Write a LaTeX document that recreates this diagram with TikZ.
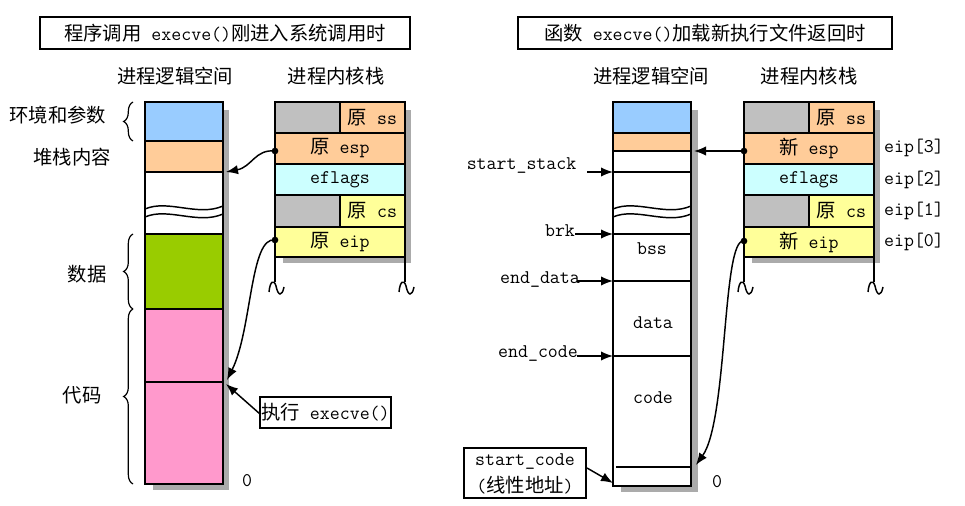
\documentclass[tikz,border=0pt]{standalone}
\usepackage{fontspec}
\newfontfamily\cjk{Noto Sans CJK SC}
\usetikzlibrary{arrows.meta,fit,decorations.pathreplacing}
\definecolor{cblue}{HTML}{99CCFF}
\definecolor{corange}{HTML}{FFCC99}
\definecolor{cgreen}{HTML}{99CC00}
\definecolor{cpink}{HTML}{FF99CC}
\definecolor{cgray}{HTML}{C0C0C0}
\definecolor{ccyan}{HTML}{CCFFFF}
\definecolor{cyellow}{HTML}{FFFF99}
\definecolor{cshadow}{HTML}{ABABAB}
\begin{document}
\begin{tikzpicture}[x=0.75pt,y=-0.75pt,
  every node/.style={font=\ttfamily\fontsize{14.5}{17}\selectfont},
  cell/.style={draw,line width=1.1pt,inner sep=0pt},
  tbox/.style={draw,line width=1.1pt,inner sep=0pt},
  cellline/.style={line width=1.1pt},
  wave/.style={line width=1.1pt},
  arr/.style={-{Latex[length=9pt,width=7pt]},line width=1.1pt},
  dot/.style={circle,fill=black,inner sep=0pt,minimum size=5pt},
  brc/.style={decorate,decoration={brace,amplitude=7pt},line width=0.9pt}]
\useasboundingbox (0,0) rectangle (965,506);

% ---------- shadows ----------
\fill[cshadow] (223,110) rectangle (229,490);
\fill[cshadow] (153,484) rectangle (229,490);
\fill[cshadow] (405,110) rectangle (411,263);
\fill[cshadow] (283,257) rectangle (411,263);
\fill[cshadow] (691,110) rectangle (698,492);
\fill[cshadow] (621,486) rectangle (698,492);
\fill[cshadow] (874,110) rectangle (880,263);
\fill[cshadow] (752,257) rectangle (880,263);

% ---------- left diagram ----------
\node[tbox,fit={(40,17)(410,49)},label=center:{{\cjk 程序调用} execve(){\cjk 刚进入系统调用时}}] (T1) {};
\node (LH1) at (175,76) {\cjk 进程逻辑空间};
\node (LH2) at (336,76) {\cjk 进程内核栈};

\node[cell,fill=cblue,fit={(145,102)(223,141)}] (Lenv) {};
\node[cell,fill=corange,fit={(145,141)(223,172)}] (Lstk) {};
\node[cell,fill=white,fit={(145,172)(223,234)}] (Lgap) {};
\node[cell,fill=cgreen,fit={(145,234)(223,309)}] (Ldata) {};
\node[cell,fill=cpink,fit={(145,309)(223,382)}] (Lcodea) {};
\node[cell,fill=cpink,fit={(145,382)(223,484)}] (Lcodeb) {};
\draw[wave] (145,209) .. controls (168,199) and (198,217) .. (223,206);
\draw[wave] (145,217) .. controls (168,207) and (198,225) .. (223,214);

\draw[brc] (133,141) -- (133,102);
\draw[brc] (133,309) -- (133,234);
\draw[brc] (133,484) -- (133,309);
\node (Lenvt) at (58,115) {\cjk 环境和参数};
\node (Lstkt) at (72,157) {\cjk 堆栈内容};
\node (Ldatat) at (87,274) {\cjk 数据};
\node (Lcodet) at (82,395) {\cjk 代码};
\node (Lzero) at (247,481) {0};

\node[cell,fill=cgray,fit={(275,102)(340,133)}] (Lssg) {};
\node[cell,fill=corange,fit={(340,102)(405,133)},label=center:{{\cjk 原} ss}] (Lss) {};
\node[cell,fill=corange,fit={(275,133)(405,164)},label=center:{{\cjk 原} esp}] (Lesp) {};
\node[cell,fill=ccyan,fit={(275,164)(405,195)},label=center:{eflags}] (Lefl) {};
\node[cell,fill=cgray,fit={(275,195)(340,227)}] (Lcsg) {};
\node[cell,fill=cyellow,fit={(340,195)(405,227)},label=center:{{\cjk 原} cs}] (Lcs) {};
\node[cell,fill=cyellow,fit={(275,227)(405,257)},label=center:{{\cjk 原} eip}] (Leip) {};

\node[tbox,fit={(260,397)(391,428)},label=center:{{\cjk 执行} execve()}] (Lexec) {};

\node[dot] (Ld1) at (275,151) {};
\node[dot] (Ld2) at (275,240) {};
\coordinate (La1) at (226,172);
\coordinate (La2) at (227,380);
\coordinate (La3) at (226,384);
\coordinate (Lex) at (260,414);
\draw[arr] (Ld1.center) .. controls (255,149) and (252,167) .. (La1);
\draw[arr] (Ld2.center) .. controls (250,236) and (252,330) .. (La2);
\draw[arr] (Lex) -- (La3);

% ---------- right diagram ----------
\node[tbox,fit={(518,17)(892,49)},label=center:{{\cjk 函数} execve(){\cjk 加载新执行文件返回时}}] (T2) {};
\node (RH1) at (651,76) {\cjk 进程逻辑空间};
\node (RH2) at (809,76) {\cjk 进程内核栈};

\node[cell,fill=cblue,fit={(613,102)(691,133)}] (Renv) {};
\node[cell,fill=corange,fit={(613,133)(691,151)}] (Rstk) {};
\node[cell,fill=white,fit={(613,151)(691,172)}] (Rtop) {};
\node[cell,fill=white,fit={(613,172)(691,234)}] (Rgap) {};
\node[cell,fill=white,fit={(613,234)(691,281)}] (Rbss) {};
\node[cell,fill=white,fit={(613,281)(691,356)}] (Rdata) {};
\node[cell,fill=white,fit={(613,356)(691,486)}] (Rcode) {};
\draw[wave] (613,209) .. controls (636,199) and (666,217) .. (691,206);
\draw[wave] (613,217) .. controls (636,207) and (666,225) .. (691,214);
\draw[cellline] (616,467) -- (691,467);
\node (Rbsst) at (652,249) {bss};
\node (Rdatat) at (653,323) {data};
\node (Rcodet) at (653,398) {code};
\node (Rzero) at (717,482) {0};

\node[anchor=east] (Rss) at (581,166) {start\_stack};
\node (Rbrk) at (560,231) {brk};
\node (Red) at (540,280) {end\_data};
\node (Rec) at (538,354) {end\_code};
\coordinate (Rsa) at (587,172);
\coordinate (Rba) at (575,234);
\coordinate (Rda) at (577,281);
\coordinate (Rca) at (577,356);
\draw[arr] (Rsa) -- (613,172) coordinate (Rsb);
\draw[arr] (Rba) -- (613,234) coordinate (Rbb);
\draw[arr] (Rda) -- (613,281) coordinate (Rdb);
\draw[arr] (Rca) -- (613,356) coordinate (Rcb);

\node[tbox,fit={(464,448)(586,498)}] (Rsc) {};
\node (Rsc1) at (525,462) {start\_code};
\node (Rsc2) at (525,485) {({\cjk 线性地址})};
\coordinate (Rsca) at (587,468);
\coordinate (Rscb) at (613,483);
\draw[arr] (Rsca) -- (Rscb);

\node[cell,fill=cgray,fit={(744,102)(809,133)}] (Rssg) {};
\node[cell,fill=corange,fit={(809,102)(874,133)},label=center:{{\cjk 原} ss}] (Rkss) {};
\node[cell,fill=corange,fit={(744,133)(874,164)},label=center:{{\cjk 新} esp}] (Resp) {};
\node[cell,fill=ccyan,fit={(744,164)(874,195)},label=center:{eflags}] (Refl) {};
\node[cell,fill=cgray,fit={(744,195)(809,227)}] (Rcsg) {};
\node[cell,fill=cyellow,fit={(809,195)(874,227)},label=center:{{\cjk 原} cs}] (Rcs) {};
\node[cell,fill=cyellow,fit={(744,227)(874,257)},label=center:{{\cjk 新} eip}] (Reip) {};

\node (E3) at (914,148) {eip[3]};
\node (E2) at (914,180) {eip[2]};
\node (E1) at (914,211) {eip[1]};
\node (E0) at (914,242) {eip[0]};

\node[dot] (Rd1) at (744,151) {};
\node[dot] (Rd2) at (744,241) {};
\coordinate (Ra1) at (694,151);
\coordinate (Ra2) at (696,465);
\draw[arr] (Rd1.center) -- (Ra1);
\draw[arr] (Rd2.center) .. controls (722,237) and (728,420) .. (Ra2);

% ---------- stack bottoms ----------
\foreach \sx in {275,405,744,874} {
  \draw[line width=1.1pt] (\sx,257) -- (\sx,282);
  \draw[line width=1.1pt] (\sx-6,292) .. controls (\sx-5,281) and (\sx-1,279) .. (\sx+1,286)
     .. controls (\sx+3,296) and (\sx+7,297) .. (\sx+9,287);
}
\end{tikzpicture}
\end{document}
